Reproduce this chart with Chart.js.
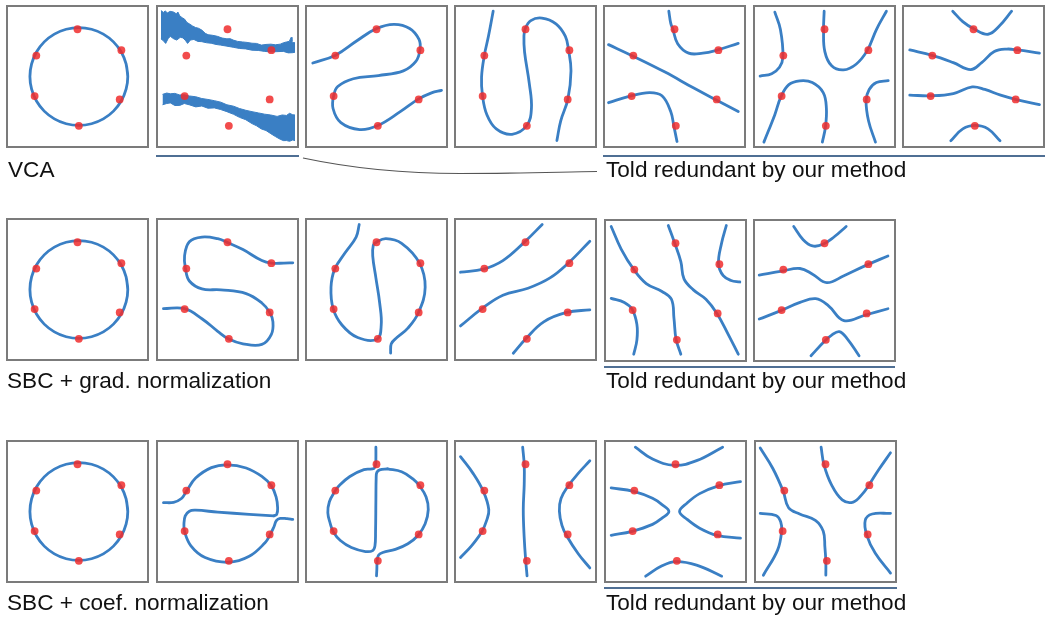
<!DOCTYPE html>
<html>
<head>
<meta charset="utf-8">
<title>Redundant polynomial basis</title>
<script src="https://cdn.jsdelivr.net/npm/chart.js@4.4.1/dist/chart.umd.min.js"></script>
<style>
  html, body { margin: 0; padding: 0; background: #fff; }
  body { width: 1045px; height: 618px; position: relative; overflow: hidden;
         font-family: "Liberation Sans", Arial, Helvetica, sans-serif; }
  .panel { position: absolute; width: 143px; height: 143px; }
  .panel canvas { position: absolute; left: 0; top: 0; }
  .frame { position: absolute; left: 0; top: 0; right: 0; bottom: 0; box-sizing: border-box;
           border: 2px solid #7b7b7b; pointer-events: none; }
  .label { position: absolute; font-size: 22.6px; line-height: 22px; color: #111; white-space: nowrap; }
  .rule { position: absolute; height: 2px; background: #4f6f94; }
  svg.connector { position: absolute; left: 0; top: 0; }
</style>
</head>
<body>
<div id="app-root"></div>
<svg class="connector" width="1045" height="618">
  <path d="M303,158 C350,168 400,173.5 460,173.5 S560,172 597,171.5" fill="none" stroke="#555" stroke-width="1.1"/>
</svg>
<script>
// Six sample points (same in every panel)
const samplePoints = [[0.0, 0.70], [0.65, 0.39], [0.625, -0.34], [0.02, -0.73], [-0.635, -0.29], [-0.61, 0.31]];

// Circle found by all three methods (first column), read every 15 degrees, last two repeat the start
const circleCurve = [[0.745, 0], [0.72, 0.188], [0.648, 0.363], [0.533, 0.513], [0.383, 0.628], [0.208, 0.7],
  [0.02, 0.725], [-0.168, 0.7], [-0.343, 0.628], [-0.493, 0.513], [-0.608, 0.363], [-0.68, 0.188],
  [-0.705, 0], [-0.68, -0.188], [-0.608, -0.363], [-0.493, -0.513], [-0.343, -0.628], [-0.168, -0.7],
  [0.02, -0.725], [0.208, -0.7], [0.383, -0.628], [0.533, -0.513], [0.648, -0.363], [0.72, -0.188],
  [0.745, 0], [0.72, 0.188]];

// VCA, noisy second polynomial (two bands, top and bottom edges)
const vcaBandUpperTop = [[-0.986, 0.977], [-0.95, 0.95], [-0.92, 0.972], [-0.893, 0.94], [-0.85, 0.965], [-0.8, 0.955],
  [-0.76, 0.93], [-0.735, 0.955], [-0.707, 0.898], [-0.67, 0.87], [-0.637, 0.851], [-0.6, 0.8], [-0.567, 0.781],
  [-0.52, 0.75], [-0.474, 0.726], [-0.43, 0.715], [-0.381, 0.688], [-0.33, 0.64], [-0.288, 0.619], [-0.22, 0.61],
  [-0.149, 0.595], [-0.08, 0.57], [-0.009, 0.558], [0.04, 0.56], [0.084, 0.54], [0.15, 0.52], [0.223, 0.512],
  [0.29, 0.505], [0.363, 0.493], [0.43, 0.49], [0.502, 0.465], [0.57, 0.475], [0.642, 0.479], [0.71, 0.47],
  [0.781, 0.479], [0.83, 0.5], [0.874, 0.512], [0.915, 0.52], [0.944, 0.581], [0.955, 0.52], [0.967, 0.502], [1.0, 0.5]];
const vcaBandUpperBottom = [[-0.986, 0.558], [-0.95, 0.53], [-0.916, 0.49], [-0.88, 0.56], [-0.847, 0.595],
  [-0.8, 0.56], [-0.753, 0.54], [-0.7, 0.58], [-0.66, 0.572], [-0.62, 0.53], [-0.591, 0.49], [-0.55, 0.54],
  [-0.498, 0.549], [-0.44, 0.52], [-0.381, 0.516], [-0.31, 0.5], [-0.242, 0.493], [-0.17, 0.475], [-0.102, 0.465],
  [-0.01, 0.45], [0.084, 0.433], [0.18, 0.415], [0.27, 0.409], [0.36, 0.39], [0.456, 0.386], [0.55, 0.372],
  [0.642, 0.363], [0.73, 0.368], [0.828, 0.372], [0.9, 0.35], [0.967, 0.353], [1.0, 0.36]];
const vcaBandLowerTop = [[-0.963, -0.265], [-0.9, -0.245], [-0.847, -0.256], [-0.78, -0.25], [-0.707, -0.274],
  [-0.64, -0.27], [-0.567, -0.288], [-0.47, -0.3], [-0.381, -0.326], [-0.29, -0.34], [-0.195, -0.358], [-0.1, -0.38],
  [-0.009, -0.419], [0.09, -0.44], [0.177, -0.474], [0.27, -0.5], [0.363, -0.521], [0.46, -0.54], [0.549, -0.558],
  [0.64, -0.57], [0.735, -0.591], [0.81, -0.57], [0.874, -0.577], [0.92, -0.545], [0.967, -0.567], [1.0, -0.57]];
const vcaBandLowerBottom = [[-0.963, -0.419], [-0.9, -0.4], [-0.847, -0.391], [-0.78, -0.43], [-0.707, -0.428],
  [-0.64, -0.4], [-0.567, -0.419], [-0.47, -0.45], [-0.381, -0.437], [-0.29, -0.47], [-0.195, -0.465],
  [-0.1, -0.49], [-0.009, -0.521], [0.09, -0.56], [0.177, -0.605], [0.27, -0.64], [0.363, -0.698], [0.43, -0.73],
  [0.502, -0.777], [0.57, -0.8], [0.642, -0.847], [0.71, -0.89], [0.781, -0.93], [0.83, -0.95], [0.874, -0.949],
  [0.92, -0.96], [0.967, -0.94], [1.0, -0.95]];

// VCA, remaining columns
const vca3 = [[-0.944, 0.2], [-0.606, 0.316], [-0.296, 0.526], [-0.005, 0.707], [0.259, 0.772], [0.491, 0.712], [0.63, 0.549],
  [0.644, 0.395], [0.583, 0.223], [0.398, 0.084], [0.028, 0.014], [-0.343, -0.033], [-0.574, -0.149], [-0.634, -0.284],
  [-0.644, -0.474], [-0.528, -0.684], [-0.25, -0.786], [0.019, -0.726], [0.352, -0.521], [0.62, -0.335], [0.815, -0.242],
  [0.963, -0.205]];
const vca4 = [[-0.479, 0.967], [-0.549, 0.595], [-0.609, 0.316], [-0.651, -0.009], [-0.637, -0.284], [-0.572, -0.567],
  [-0.433, -0.777], [-0.2, -0.856], [0.019, -0.726], [0.088, -0.474], [0.056, -0.102], [-0.014, 0.363], [-0.023, 0.595],
  [-0.005, 0.707], [0.079, 0.828], [0.242, 0.865], [0.451, 0.781], [0.591, 0.595], [0.637, 0.395], [0.674, 0.084],
  [0.628, -0.335], [0.521, -0.66], [0.465, -0.949]];
const vca5a = [[-0.977, 0.472], [-0.628, 0.308], [-0.14, 0.065], [0.279, -0.168], [0.605, -0.341], [0.944, -0.519]];
const vca5b = [[-0.084, 0.967], [-0.056, 0.79], [-0.023, 0.696], [0.047, 0.486], [0.209, 0.346], [0.419, 0.346], [0.619, 0.388], [0.944, 0.491]];
const vca5c = [[-0.977, -0.388], [-0.66, -0.29], [-0.372, -0.238], [-0.186, -0.285], [-0.056, -0.519], [-0.009, -0.738], [0.037, -0.963]];
const vca6a = [[-0.736, 0.953], [-0.653, 0.696], [-0.616, 0.29], [-0.667, 0.136], [-0.782, 0.042], [-0.954, 0.005]];
const vca6b = [[-0.005, 0.967], [-0.014, 0.687], [0.005, 0.369], [0.106, 0.159], [0.282, 0.098], [0.468, 0.182], [0.63, 0.379], [0.769, 0.696], [0.917, 0.967]];
const vca6c = [[-0.898, -0.972], [-0.736, -0.565], [-0.644, -0.299], [-0.528, -0.121], [-0.366, -0.065], [-0.181, -0.089],
  [-0.019, -0.238], [0.028, -0.472], [0.014, -0.748], [-0.032, -0.972]];
const vca6d = [[0.944, -0.061], [0.769, -0.089], [0.662, -0.192], [0.616, -0.355], [0.653, -0.659], [0.755, -0.972]];
const vca7a = [[-0.308, 0.967], [-0.159, 0.813], [0.005, 0.706], [0.215, 0.626], [0.379, 0.743], [0.565, 0.967]];
const vca7b = [[-0.944, 0.393], [-0.612, 0.313], [-0.299, 0.206], [-0.042, 0.103], [0.121, 0.206], [0.308, 0.369], [0.495, 0.407], [0.65, 0.393], [0.977, 0.346]];
const vca7c = [[-0.944, -0.276], [-0.626, -0.285], [-0.299, -0.252], [-0.019, -0.154], [0.168, -0.192], [0.402, -0.276], [0.636, -0.341], [0.977, -0.416]];
const vca7d = [[-0.336, -0.953], [-0.159, -0.776], [0.028, -0.724], [0.215, -0.776], [0.393, -0.953]];

// SBC + gradient normalization
const grad2 = [[-0.949, -0.284], [-0.636, -0.284], [-0.379, -0.433], [-0.145, -0.619], [0.019, -0.735], [0.229, -0.805],
  [0.509, -0.814], [0.65, -0.665], [0.673, -0.479], [0.626, -0.34], [0.509, -0.2], [0.276, -0.06], [-0.098, -0.005],
  [-0.379, 0.009], [-0.565, 0.126], [-0.621, 0.302], [-0.636, 0.498], [-0.565, 0.707], [-0.379, 0.777], [-0.145, 0.753],
  [-0.005, 0.698], [0.229, 0.591], [0.509, 0.428], [0.65, 0.391], [0.836, 0.391], [0.967, 0.395]];
const grad3 = [[-0.256, 0.963], [-0.302, 0.777], [-0.465, 0.544], [-0.619, 0.302], [-0.674, 0.033], [-0.642, -0.284],
  [-0.512, -0.526], [-0.279, -0.712], [0.009, -0.735], [0.07, -0.526], [0.047, -0.2], [-0.009, 0.172], [-0.056, 0.498],
  [-0.047, 0.66], [-0.009, 0.698], [0.14, 0.753], [0.372, 0.684], [0.637, 0.391], [0.721, 0.033], [0.623, -0.34],
  [0.465, -0.572], [0.302, -0.712], [0.219, -0.805], [0.209, -0.944]];
const grad4a = [[-0.963, 0.256], [-0.623, 0.302], [-0.335, 0.428], [-0.019, 0.698], [0.247, 0.963]];
const grad4b = [[-0.963, -0.54], [-0.647, -0.284], [-0.335, -0.084], [0.037, 0.019], [0.363, 0.172], [0.633, 0.391], [0.953, 0.716]];
const grad4c = [[-0.181, -0.944], [0.005, -0.73], [0.27, -0.479], [0.609, -0.34], [0.953, -0.302]];
const grad5a = [[-0.953, 0.949], [-0.805, 0.614], [-0.619, 0.312], [-0.433, 0.102], [-0.2, -0.014], [-0.06, -0.13],
  [-0.023, -0.409], [0.009, -0.726], [0.079, -0.944]];
const grad5b = [[-0.107, 0.963], [-0.014, 0.707], [0.079, 0.428], [0.126, 0.172], [0.265, 0.009], [0.451, -0.13],
  [0.614, -0.34], [0.777, -0.642], [0.93, -0.944]];
const grad5c = [[0.753, 0.963], [0.684, 0.707], [0.637, 0.395], [0.707, 0.219], [0.823, 0.149], [0.953, 0.126]];
const grad5d = [[-0.953, -0.116], [-0.758, -0.177], [-0.642, -0.279], [-0.572, -0.502], [-0.572, -0.735], [-0.619, -0.944]];
const grad6a = [[-0.456, 0.949], [-0.316, 0.753], [-0.177, 0.66], [-0.023, 0.684], [0.149, 0.8], [0.321, 0.949]];
const grad6b = [[-0.967, 0.228], [-0.628, 0.288], [-0.363, 0.326], [-0.177, 0.242], [0.033, 0.116], [0.288, 0.219], [0.614, 0.372], [0.94, 0.512]];
const grad6c = [[-0.967, -0.423], [-0.656, -0.302], [-0.363, -0.177], [-0.13, -0.121], [0.056, -0.223], [0.288, -0.447], [0.605, -0.363], [0.94, -0.27]];
const grad6d = [[-0.2, -0.967], [0.0, -0.753], [0.102, -0.665], [0.219, -0.609], [0.335, -0.712], [0.512, -0.967]];

// SBC + coefficient normalization
const coef2a = [[-0.949, 0.131], [-0.799, 0.136], [-0.682, 0.192], [-0.612, 0.294], [-0.472, 0.495], [-0.238, 0.65],
  [-0.005, 0.692], [0.276, 0.645], [0.509, 0.519], [0.65, 0.379], [0.72, 0.215], [0.743, 0.051], [0.729, -0.042], [0.687, -0.065]];
const coef2b = [[0.687, -0.065], [0.322, -0.042], [-0.145, -0.009], [-0.472, 0.019], [-0.565, 0.005], [-0.626, -0.065],
  [-0.645, -0.182], [-0.636, -0.299], [-0.542, -0.509], [-0.332, -0.682], [0.019, -0.752], [0.322, -0.664], [0.556, -0.463],
  [0.626, -0.355], [0.687, -0.229], [0.724, -0.136], [0.78, -0.103], [0.883, -0.107], [0.967, -0.117]];
const coef3a = [[-0.009, 0.953], [-0.009, 0.776], [-0.014, 0.696], [-0.037, 0.636], [-0.186, 0.621], [-0.395, 0.519],
  [-0.558, 0.379], [-0.619, 0.294], [-0.698, 0.145], [-0.721, -0.019], [-0.684, -0.182], [-0.642, -0.299], [-0.535, -0.43],
  [-0.372, -0.533], [-0.163, -0.593], [-0.056, -0.579], [-0.023, -0.509], [-0.014, -0.299], [-0.009, 0.168], [-0.005, 0.495],
  [0.005, 0.579], [0.047, 0.617], [0.163, 0.631]];
const coef3b = [[0.163, 0.631], [0.372, 0.589], [0.535, 0.486], [0.637, 0.379], [0.735, 0.215], [0.767, 0.028], [0.721, -0.182],
  [0.614, -0.355], [0.465, -0.477], [0.279, -0.561], [0.093, -0.607], [0.028, -0.65], [0.009, -0.752], [0.005, -0.86], [0.0, -0.953]];
const coef4a = [[-0.963, 0.813], [-0.777, 0.565], [-0.623, 0.294], [-0.544, 0.028], [-0.577, -0.136], [-0.647, -0.299], [-0.8, -0.509], [-0.963, -0.682]];
const coef4b = [[-0.042, 0.953], [-0.019, 0.692], [-0.019, 0.402], [-0.033, 0.028], [-0.019, -0.393], [0.005, -0.748], [0.023, -0.953]];
const coef4c = [[0.953, 0.752], [0.781, 0.565], [0.633, 0.379], [0.526, 0.192], [0.502, 0.005], [0.54, -0.206], [0.609, -0.36], [0.781, -0.626], [0.953, -0.836]];
const coef5a = [[-0.595, 0.953], [-0.34, 0.777], [-0.014, 0.684], [0.312, 0.753], [0.698, 0.953]];
const coef5b = [[-0.953, 0.349], [-0.619, 0.298], [-0.34, 0.195], [-0.2, 0.102], [-0.098, 0.0], [-0.2, -0.098], [-0.34, -0.191], [-0.642, -0.293], [-0.953, -0.353]];
const coef5c = [[0.963, 0.442], [0.637, 0.381], [0.358, 0.265], [0.172, 0.126], [0.06, 0.0], [0.172, -0.116], [0.358, -0.247], [0.614, -0.353], [0.963, -0.395]];
const coef5d = [[-0.442, -0.958], [-0.2, -0.805], [0.009, -0.744], [0.312, -0.795], [0.684, -0.958]];
const coef6a = [[-0.967, 0.94], [-0.78, 0.637], [-0.626, 0.298], [-0.547, 0.056], [-0.383, -0.037], [-0.15, -0.13],
  [-0.033, -0.293], [-0.009, -0.526], [0.005, -0.74], [0.005, -0.944]];
const coef6b = [[-0.065, 0.953], [-0.023, 0.693], [0.084, 0.405], [0.248, 0.172], [0.411, 0.14], [0.551, 0.265], [0.636, 0.381], [0.785, 0.614], [0.963, 0.87]];
const coef6c = [[-0.967, -0.028], [-0.734, -0.06], [-0.664, -0.153], [-0.65, -0.293], [-0.71, -0.572], [-0.921, -0.944]];
const coef6d = [[0.963, -0.028], [0.692, -0.037], [0.589, -0.13], [0.612, -0.353], [0.738, -0.619], [0.963, -0.912]];

// Panel placement (page pixels)
const panels = [
  { left: 5.5, top: 4.5, curves: [circleCurve], tension: 0.34 },
  { left: 155.5, top: 4.5, bands: [[vcaBandUpperTop, vcaBandUpperBottom], [vcaBandLowerTop, vcaBandLowerBottom]] },
  { left: 304.5, top: 4.5, curves: [vca3] },
  { left: 454, top: 4.5, curves: [vca4] },
  { left: 603, top: 4.5, curves: [vca5a, vca5b, vca5c] },
  { left: 753, top: 4.5, curves: [vca6a, vca6b, vca6c, vca6d] },
  { left: 901.5, top: 4.5, curves: [vca7a, vca7b, vca7c, vca7d] },

  { left: 5.5, top: 217.5, curves: [circleCurve], tension: 0.34 },
  { left: 155.5, top: 217.5, curves: [grad2] },
  { left: 305, top: 217.5, curves: [grad3] },
  { left: 454, top: 217.5, curves: [grad4a, grad4b, grad4c] },
  { left: 604, top: 219, curves: [grad5a, grad5b, grad5c, grad5d] },
  { left: 752.5, top: 219, curves: [grad6a, grad6b, grad6c, grad6d] },

  { left: 5.5, top: 439.5, curves: [circleCurve], tension: 0.34 },
  { left: 155.5, top: 439.5, curves: [coef2a, coef2b] },
  { left: 305, top: 439.5, curves: [coef3a, coef3b] },
  { left: 454, top: 439.5, curves: [coef4a, coef4b, coef4c] },
  { left: 604.3, top: 439.5, curves: [coef5a, coef5b, coef5c, coef5d] },
  { left: 754.3, top: 439.5, curves: [coef6a, coef6b, coef6c, coef6d] }
];

const labels = [
  { text: 'VCA', left: 8, top: 159.4 },
  { text: 'Told redundant by our method', left: 606, top: 159.4 },
  { text: 'SBC + grad. normalization', left: 7, top: 370.4 },
  { text: 'Told redundant by our method', left: 606, top: 370.4 },
  { text: 'SBC + coef. normalization', left: 7, top: 592.4 },
  { text: 'Told redundant by our method', left: 606, top: 592.4 }
];

const rules = [
  { left: 155.7, top: 154.7, width: 143.5 },
  { left: 603.3, top: 154.7, width: 442 },
  { left: 604.3, top: 365.7, width: 291 },
  { left: 604, top: 587, width: 293 }
];

const CURVE_COLOR = '#3a7fc4';
const POINT_COLOR = 'rgba(240, 45, 45, 0.85)';

const toXY = arr => arr.map(([x, y]) => ({ x, y }));

function renderPanel(root, cfg) {
  const box = document.createElement('div');
  box.className = 'panel';
  box.style.left = cfg.left + 'px';
  box.style.top = cfg.top + 'px';
  const canvas = document.createElement('canvas');
  canvas.width = 143;
  canvas.height = 143;
  box.appendChild(canvas);
  const frame = document.createElement('div');
  frame.className = 'frame';
  box.appendChild(frame);
  root.appendChild(box);

  // points first so they end up drawn on top
  const datasets = [{
    data: toXY(samplePoints),
    showLine: false,
    pointRadius: 3.9,
    pointBackgroundColor: POINT_COLOR,
    pointBorderWidth: 0
  }];

  (cfg.bands || []).forEach(([topEdge, bottomEdge]) => {
    datasets.push({
      data: toXY(topEdge), borderColor: CURVE_COLOR, backgroundColor: CURVE_COLOR,
      borderWidth: 1, pointRadius: 0, tension: 0, fill: '+1'
    });
    datasets.push({
      data: toXY(bottomEdge), borderColor: CURVE_COLOR, borderWidth: 1,
      pointRadius: 0, tension: 0, fill: false
    });
  });

  (cfg.curves || []).forEach(curve => {
    datasets.push({
      data: toXY(curve), borderColor: CURVE_COLOR, borderWidth: 2.8,
      pointRadius: 0, tension: cfg.tension || 0.4, fill: false, borderCapStyle: 'round'
    });
  });

  new Chart(canvas, {
    type: 'line',
    data: { datasets },
    options: {
      responsive: false,
      animation: false,
      events: [],
      layout: { padding: 0 },
      scales: {
        x: { type: 'linear', min: -1, max: 1, display: false },
        y: { type: 'linear', min: -1, max: 1, display: false }
      },
      plugins: { legend: { display: false }, tooltip: { enabled: false } }
    }
  });
}

document.addEventListener('DOMContentLoaded', () => {
  const root = document.getElementById('app-root');
  panels.forEach(p => renderPanel(root, p));

  labels.forEach(l => {
    const el = document.createElement('div');
    el.className = 'label';
    el.textContent = l.text;
    el.style.left = l.left + 'px';
    el.style.top = l.top + 'px';
    root.appendChild(el);
  });

  rules.forEach(r => {
    const el = document.createElement('div');
    el.className = 'rule';
    el.style.left = r.left + 'px';
    el.style.top = r.top + 'px';
    el.style.width = r.width + 'px';
    root.appendChild(el);
  });
});
</script>
</body>
</html>
